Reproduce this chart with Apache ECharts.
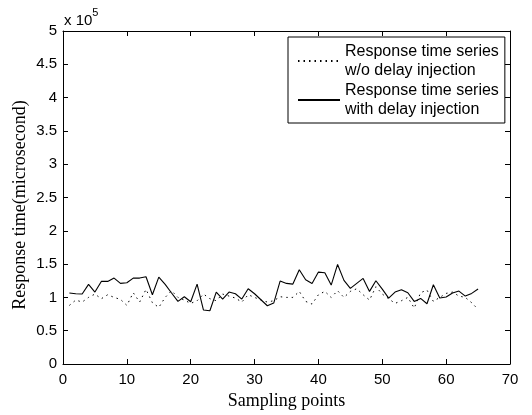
<!DOCTYPE html>
<html><head><meta charset="utf-8">
<script src="https://cdn.jsdelivr.net/npm/echarts@6/dist/echarts.min.js"></script>
<style>html,body{margin:0;padding:0;background:#fff}#c{width:532px;height:415px}</style>
</head><body><div id="c"></div>
<script>
// Sampling point indices
const samplingPoints = [1,2,3,4,5,6,7,8,9,10,11,12,13,14,15,16,17,18,19,20,21,22,23,24,25,26,27,28,29,30,31,32,
  33,34,35,36,37,38,39,40,41,42,43,44,45,46,47,48,49,50,51,52,53,54,55,56,57,58,59,60,61,62,63,64,65];
// Response time (x 10^5 microseconds) without delay injection (dotted)
const withoutDelay = [0.88,0.96,0.93,1.00,1.05,0.98,1.04,1.00,0.97,0.88,1.07,0.93,1.12,0.92,0.85,1.00,
  1.10,1.00,0.96,0.91,0.95,1.05,0.98,0.95,1.05,1.02,0.99,0.93,1.04,1.00,0.96,0.93,0.95,
  1.01,1.00,1.00,1.09,0.94,0.90,1.04,1.09,1.00,1.10,1.00,1.09,1.13,1.04,0.96,1.16,
  1.05,0.98,0.91,0.95,1.00,0.84,1.07,1.11,0.94,1.00,1.06,1.08,1.02,1.00,0.92,0.82];
// Response time (x 10^5 microseconds) with delay injection (solid)
const withDelay = [1.066,1.055,1.05,1.195,1.08,1.24,1.24,1.29,1.21,1.22,1.29,1.29,1.31,1.04,1.305,1.195,
  1.066,0.94,1.01,0.935,1.20,0.81,0.80,1.08,0.975,1.08,1.055,0.975,1.13,1.055,0.965,0.875,0.915,
  1.245,1.21,1.20,1.415,1.265,1.21,1.38,1.37,1.185,1.495,1.255,1.135,1.21,1.285,1.09,1.25,
  1.125,0.99,1.08,1.115,1.07,0.94,0.985,0.905,1.19,0.99,1.005,1.065,1.095,1.02,1.06,1.125];
const seriesNames = ['Response time series\nw/o delay injection','Response time series\nwith delay injection'];
const xTicks = {min:0,max:70,interval:10};
const yTicks = {min:0,max:5,interval:0.5};
const yTitle = 'Response time(microsecond)';
const xTitle = 'Sampling points';

const pairs = (ys) => samplingPoints.map((x,i)=>[x, ys[i]]);
const sans = 'Liberation Sans, Arial, sans-serif';
const serif = 'Liberation Serif, Times New Roman, serif';
const axisLine = {show:true, onZero:false, lineStyle:{color:'#000', width:1}};
const tick = {show:true, inside:true, length:5, lineStyle:{color:'#000'}};

const chart = echarts.init(document.getElementById('c'), null, {renderer:'canvas'});
chart.setOption({
  animation:false,
  backgroundColor:'#fff',
  grid:{left:63, right:22, top:31, bottom:51, containLabel:false},
  xAxis:[
    {type:'value', position:'bottom', min:xTicks.min, max:xTicks.max, interval:xTicks.interval,
     axisLine:axisLine, axisTick:tick, splitLine:{show:false},
     axisLabel:{color:'#000', fontSize:15, fontFamily:sans, margin:8},
     name:xTitle, nameLocation:'middle', nameGap:27,
     nameTextStyle:{color:'#000', fontSize:18, fontFamily:serif}},
    {type:'value', position:'top', min:xTicks.min, max:xTicks.max, interval:xTicks.interval,
     axisLine:axisLine, axisTick:tick, splitLine:{show:false}, axisLabel:{show:false}}
  ],
  yAxis:[
    {type:'value', position:'left', min:yTicks.min, max:yTicks.max, interval:yTicks.interval,
     axisLine:axisLine, axisTick:tick, splitLine:{show:false},
     axisLabel:{color:'#000', fontSize:15, fontFamily:sans, margin:6, formatter:(v)=>String(+v.toFixed(1))}},
    {type:'value', position:'right', min:yTicks.min, max:yTicks.max, interval:yTicks.interval,
     axisLine:axisLine, axisTick:tick, splitLine:{show:false}, axisLabel:{show:false}}
  ],
  legend:{
    show:true, orient:'vertical', left:288, top:37,
    backgroundColor:'#fff', borderColor:'#000', borderWidth:1, borderRadius:0,
    padding:[5,6,4,9], itemGap:1, itemWidth:42, itemHeight:14,
    itemStyle:{opacity:0},
    textStyle:{color:'#000', fontSize:16, fontFamily:sans, lineHeight:19},
    data:seriesNames
  },
  graphic:[
    {type:'text', left:64, top:7,
     style:{text:'{a|x 10}{b|5}', rich:{
       a:{fontSize:15, fontFamily:sans, fill:'#000', padding:[6,0,0,0]},
       b:{fontSize:11, fontFamily:sans, fill:'#000', verticalAlign:'top'}}}},
    {type:'text', x:20, y:205, rotation:Math.PI/2,
     style:{text:yTitle, fontSize:18, fontFamily:serif, fill:'#000', align:'center', verticalAlign:'middle'}}
  ],
  series:[
    {name:seriesNames[0], type:'line', data:pairs(withoutDelay), symbol:'none', showSymbol:false,
     lineStyle:{color:'#000', width:1, type:[1.5,4]}, itemStyle:{color:'#000'}, z:2},
    {name:seriesNames[1], type:'line', data:pairs(withDelay), symbol:'none', showSymbol:false,
     lineStyle:{color:'#000', width:1.1, type:'solid'}, itemStyle:{color:'#000'}, z:3}
  ]
});
</script></body></html>
